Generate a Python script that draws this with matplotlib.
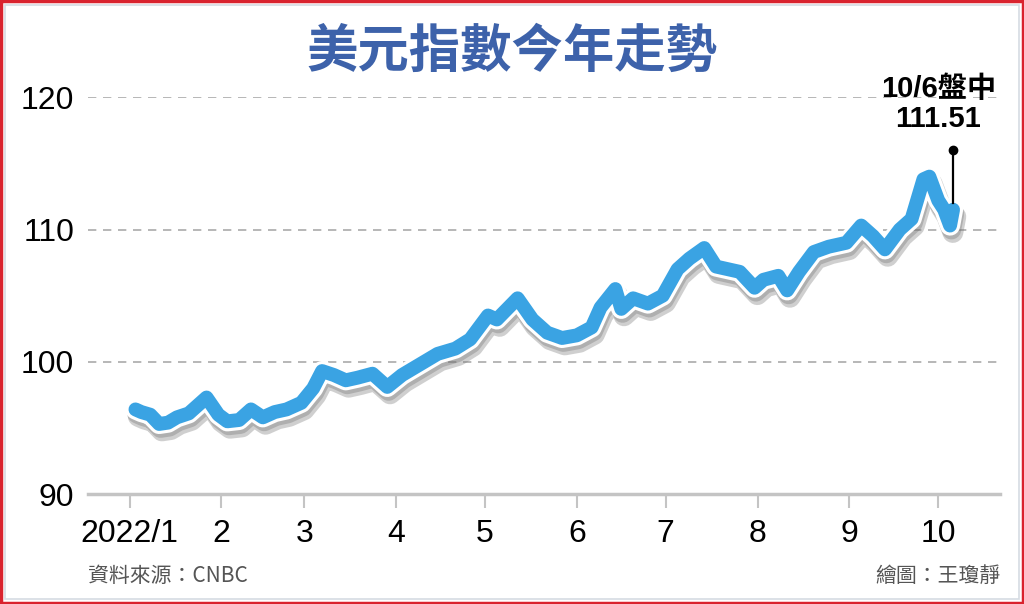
import pandas as pd
import matplotlib
matplotlib.use("Agg")
import matplotlib.pyplot as plt
import matplotlib.patheffects as pe
from matplotlib.patches import Rectangle

# DXY readings
DATES = ["2022-01-03", "2022-01-05", "2022-01-08", "2022-01-11", "2022-01-14", "2022-01-17",
         "2022-01-21", "2022-01-27", "2022-01-31", "2022-02-03", "2022-02-07", "2022-02-11",
         "2022-02-15", "2022-02-19", "2022-02-23", "2022-02-28", "2022-03-04", "2022-03-07",
         "2022-03-11", "2022-03-15", "2022-03-19", "2022-03-24", "2022-03-29", "2022-04-03",
         "2022-04-09", "2022-04-15", "2022-04-21", "2022-04-26", "2022-05-02", "2022-05-05",
         "2022-05-12", "2022-05-17", "2022-05-22", "2022-05-27", "2022-06-01", "2022-06-06",
         "2022-06-09", "2022-06-14", "2022-06-16", "2022-06-20", "2022-06-25", "2022-06-30",
         "2022-07-05", "2022-07-09", "2022-07-14", "2022-07-18", "2022-07-22", "2022-07-26",
         "2022-07-31", "2022-08-03", "2022-08-08", "2022-08-11", "2022-08-15", "2022-08-20",
         "2022-08-25", "2022-08-31", "2022-09-05", "2022-09-09", "2022-09-13", "2022-09-18",
         "2022-09-22", "2022-09-26", "2022-09-28", "2022-10-01", "2022-10-03", "2022-10-05",
         "2022-10-06"]
VALUES = [96.4, 96.2, 96.0, 95.3, 95.4, 95.8,
          96.1, 97.3, 96.0, 95.5, 95.6, 96.4,
          95.8, 96.2, 96.4, 96.9, 98.0, 99.3,
          99.0, 98.6, 98.8, 99.1, 98.1, 99.0,
          99.8, 100.6, 101.0, 101.7, 103.5, 103.2,
          104.8, 103.2, 102.2, 101.8, 102.0, 102.6,
          104.1, 105.5, 104.0, 104.8, 104.4, 105.0,
          107.0, 107.8, 108.6, 107.2, 107.0, 106.8,
          105.6, 106.2, 106.5, 105.4, 106.8, 108.3,
          108.7, 109.0, 110.3, 109.5, 108.5, 110.0,
          110.8, 113.8, 114.0, 112.2, 111.5, 110.3,
          111.5]

MONTH_TICKS = ["2022-01-01", "2022-02-01", "2022-03-01", "2022-04-01", "2022-05-01",
               "2022-06-01", "2022-07-01", "2022-08-01", "2022-09-01", "2022-10-01"]
MONTH_LABELS = ["2022/1", "2", "3", "4", "5", "6", "7", "8", "9", "10"]
Y_TICKS = [90, 100, 110, 120]

TITLE = "美元指數今年走勢"
SOURCE = "資料來源：CNBC"
AUTHOR = "繪圖：王瓊靜"
NOTE_DATE = "2022-10-06"
NOTE_TEXT = "10/6盤中\n111.51"

LATIN = "Liberation Sans"
CJK = "Noto Sans CJK TC"

dates = pd.to_datetime(DATES)
ticks = pd.to_datetime(MONTH_TICKS)

fig = plt.figure(figsize=(10.24, 6.04), dpi=100)
fig.patch.set_facecolor("white")
ax = fig.add_axes([0.086, 0.182, 0.891, 0.657])

# blue line with white rim and a soft drop shadow
ax.plot(dates, VALUES, color="#3aa3e3", lw=10, solid_capstyle="round", solid_joinstyle="round",
        zorder=3,
        path_effects=[pe.Stroke(offset=(2, -5), linewidth=15, foreground="#777777", alpha=0.35),
                      pe.Stroke(offset=(1, -3), linewidth=14, foreground="#666666", alpha=0.3),
                      pe.Stroke(linewidth=14.5, foreground="white"),
                      pe.Normal()])

ax.set_ylim(90, 120)
ax.set_xlim(pd.Timestamp("2021-12-18"), pd.Timestamp("2022-10-22"))

for y in Y_TICKS[1:]:
    ax.axhline(y, color="#aaaaaa", lw=1.2, ls=(0, (5, 4)), zorder=1)
ax.axhline(90, color="#c4c4c4", lw=2.5, zorder=2, clip_on=False)

for s in ax.spines.values():
    s.set_visible(False)

ax.set_yticks(Y_TICKS)
ax.set_yticklabels([str(v) for v in Y_TICKS], fontsize=23, family=LATIN)
ax.tick_params(axis="y", length=0, pad=10)
ax.set_xticks(ticks)
ax.set_xticklabels(MONTH_LABELS, fontsize=23, family=LATIN)
ax.tick_params(axis="x", length=10, width=1.5, color="#c4c4c4", pad=8)

# note for latest point
nd = pd.Timestamp(NOTE_DATE)
ax.plot([nd, nd], [116.0, 112.0], color="black", lw=1.6, zorder=5, clip_on=False)
ax.plot([nd], [116.0], "o", color="black", ms=6, zorder=5, clip_on=False)
ax.text(pd.Timestamp("2022-10-01"), 117.3, NOTE_TEXT, ha="center", va="bottom", fontsize=21,
        fontweight="bold", family=[LATIN, CJK], linespacing=1.1, clip_on=False)

fig.text(0.5, 0.915, TITLE, ha="center", va="center", fontsize=37, color="#3d62aa",
         family=CJK, fontweight="bold")
fig.text(0.086, 0.047, SOURCE, ha="left", va="center", fontsize=15, color="#555555",
         family=[CJK, LATIN])
fig.text(0.977, 0.047, AUTHOR, ha="right", va="center", fontsize=15, color="#555555",
         family=CJK)

# frame
fig.patches.append(Rectangle((0.005, 0.008), 0.99, 0.984, transform=fig.transFigure,
                             fill=False, ec="#d5dbe3", lw=1.2))
fig.patches.append(Rectangle((0.001, 0.002), 0.998, 0.996, transform=fig.transFigure,
                             fill=False, ec="#d9232e", lw=2.5))

fig.savefig("out.png", dpi=100)
